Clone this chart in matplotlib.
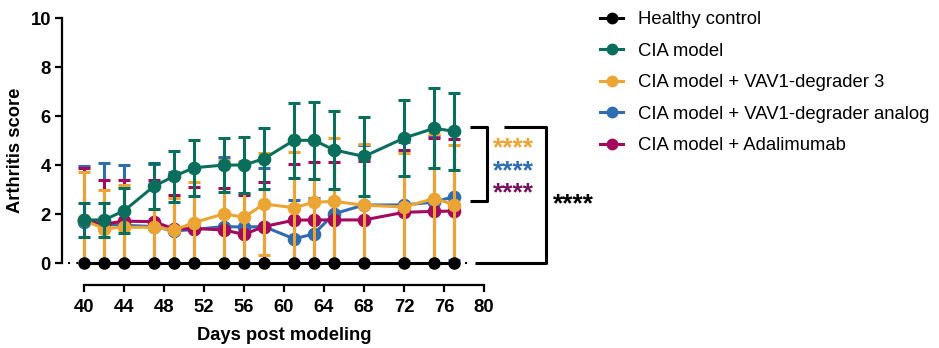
"""
CIA 模型关节炎评分曲线
"""

import matplotlib
matplotlib.use("Agg")
import matplotlib.pyplot as plt
from matplotlib.lines import Line2D

plt.rcParams["font.family"] = ["Liberation Sans", "DejaVu Sans"]

# 观察天数
DAYS = [40, 42, 44, 47, 49, 51, 54, 56, 58, 61, 63, 65, 68, 72, 75, 77]

# 各组均值与标准差
HEALTHY_MEAN = [0, 0, 0, 0, 0, 0, 0, 0, 0, 0, 0, 0, 0, 0, 0, 0]
HEALTHY_SD = [0, 0, 0, 0, 0, 0, 0, 0, 0, 0, 0, 0, 0, 0, 0, 0]

CIA_MEAN = [1.77, 1.77, 2.14, 3.15, 3.55, 3.90, 4.01, 4.01, 4.27, 5.02, 5.02, 4.63, 4.36, 5.11, 5.51, 5.39]
CIA_SD = [0.71, 0.69, 0.92, 0.94, 1.03, 1.15, 1.12, 1.15, 1.24, 1.52, 1.58, 1.58, 1.62, 1.56, 1.63, 1.57]

DEG3_MEAN = [1.75, 1.42, 1.47, 1.47, 1.36, 1.66, 2.02, 1.88, 2.42, 2.27, 2.49, 2.53, 2.37, 2.30, 2.64, 2.40]
DEG3_SD = [1.99, 1.57, 1.73, 1.70, 1.29, 1.67, 2.20, 2.30, 2.07, 2.29, 2.55, 2.60, 2.48, 2.20, 2.65, 2.43]

ANALOG_MEAN = [1.68, 1.60, 1.55, 1.50, 1.32, 1.38, 1.50, 1.48, 1.50, 1.00, 1.20, 2.02, 2.38, 2.38, 2.50, 2.72]
ANALOG_SD = [2.29, 2.48, 2.46, 2.55, 2.42, 2.50, 2.83, 2.50, 2.38, 1.58, 1.45, 2.54, 2.45, 2.58, 2.70, 2.60]

ADA_MEAN = [1.75, 1.60, 1.72, 1.70, 1.40, 1.42, 1.36, 1.18, 1.50, 1.76, 1.77, 1.77, 1.77, 2.08, 2.12, 2.13]
ADA_SD = [2.15, 1.80, 1.68, 1.70, 1.39, 1.71, 1.70, 1.61, 1.83, 2.29, 2.38, 2.38, 2.42, 2.54, 2.98, 2.94]

GROUP_LABELS = [
    "Healthy control",
    "CIA model",
    "CIA model + VAV1-degrader 3",
    "CIA model + VAV1-degrader analog",
    "CIA model + Adalimumab",
]

# 颜色
BLACK = "#000000"
GREEN = "#0A6E5C"
ORANGE = "#EBA535"
BLUE = "#2F6CB0"
MAGENTA = "#A3095C"
PURPLE = "#74145E"

X_TICKS = [40, 44, 48, 52, 56, 60, 64, 68, 72, 76, 80]
Y_TICKS = [0, 2, 4, 6, 8, 10]


def plot_arthritis_scores(save_path="out.png"):
    fig = plt.figure(figsize=(9.39, 3.48), dpi=100)
    ax = fig.add_axes([62 / 939, 84.7 / 348, 492 / 939, 245 / 348])

    # 治疗组（从下往上绘制）
    groups = [
        (ANALOG_MEAN, ANALOG_SD, BLUE, 2),
        (ADA_MEAN, ADA_SD, MAGENTA, 3),
        (DEG3_MEAN, DEG3_SD, ORANGE, 4),
        (CIA_MEAN, CIA_SD, GREEN, 5),
    ]
    for mean, sd, color, z in groups:
        ax.errorbar(
            DAYS, mean, yerr=sd, color=color, lw=2.2, elinewidth=2.2,
            marker="o", ms=8.8, capsize=4.3, capthick=2.2, zorder=z,
        )

    # 健康对照
    ax.plot(DAYS, HEALTHY_MEAN, color=BLACK, lw=2.2, marker="o", ms=8,
            clip_on=False, zorder=10)
    ax.plot([DAYS[0] - 1.6, DAYS[0] - 0.6], [0, 0], color=BLACK, lw=1.5,
            ls=(0, (1, 3)), clip_on=False)
    ax.plot([DAYS[-1] + 1.1, DAYS[-1] + 1.9], [0, 0], color=BLACK, lw=1.5,
            ls=(0, (1, 3)), clip_on=False)

    ax.set_xlim(37.8, 87)
    ax.set_ylim(0, 10)

    # 坐标轴样式
    ax.spines["top"].set_visible(False)
    ax.spines["right"].set_visible(False)
    ax.spines["bottom"].set_position(("outward", 15.6))
    ax.spines["bottom"].set_bounds(40, 80)
    for side in ["left", "bottom"]:
        ax.spines[side].set_linewidth(1.6)

    ax.set_xticks(X_TICKS)
    ax.set_yticks(Y_TICKS)
    ax.tick_params(width=1.6, length=5, labelsize=13.3, pad=3)
    ax.tick_params(axis="x", pad=5)
    for lbl in ax.get_xticklabels() + ax.get_yticklabels():
        lbl.set_fontweight("bold")

    ax.set_ylabel("Arthritis score", fontsize=13.2, fontweight="bold")
    ax.yaxis.set_label_coords(-0.077, 0.46)
    ax.set_xlabel("Days post modeling", fontsize=13.2, fontweight="bold")
    ax.xaxis.set_label_coords(0.451, -0.262)

    # 显著性括号
    bkw = dict(color=BLACK, lw=2.2, clip_on=False, solid_capstyle="butt")
    ax.plot([78.6, 80.3, 80.3, 78.6], [5.55, 5.55, 2.56, 2.56], **bkw)
    ax.plot([82.0, 86.2, 86.2, 79.1], [5.55, 5.55, 0, 0], **bkw)

    star_kw = dict(fontsize=19, fontweight="bold", ha="center", va="baseline")
    ax.text(82.95, 4.99 - 0.6, "****", color=ORANGE, **star_kw)
    ax.text(82.95, 4.08 - 0.6, "****", color=BLUE, **star_kw)
    ax.text(82.95, 3.16 - 0.6, "****", color=PURPLE, **star_kw)
    ax.text(88.9, 2.72 - 0.6, "****", color=BLACK, **star_kw)

    # 图例
    colors = [BLACK, GREEN, ORANGE, BLUE, MAGENTA]
    handles = [
        Line2D([], [], color=c, lw=2.2, marker="o", ms=7.5) for c in colors
    ]
    fig.legend(
        handles, GROUP_LABELS, loc="upper left",
        bbox_to_anchor=(600 / 939, 1 - 11.5 / 348), frameon=False,
        fontsize=13.3, handlelength=1.25, handletextpad=0.8,
        labelspacing=0.78, borderpad=0, borderaxespad=0,
    )

    if save_path:
        plt.savefig(save_path, dpi=100)


if __name__ == "__main__":
    plot_arthritis_scores("out.png")
